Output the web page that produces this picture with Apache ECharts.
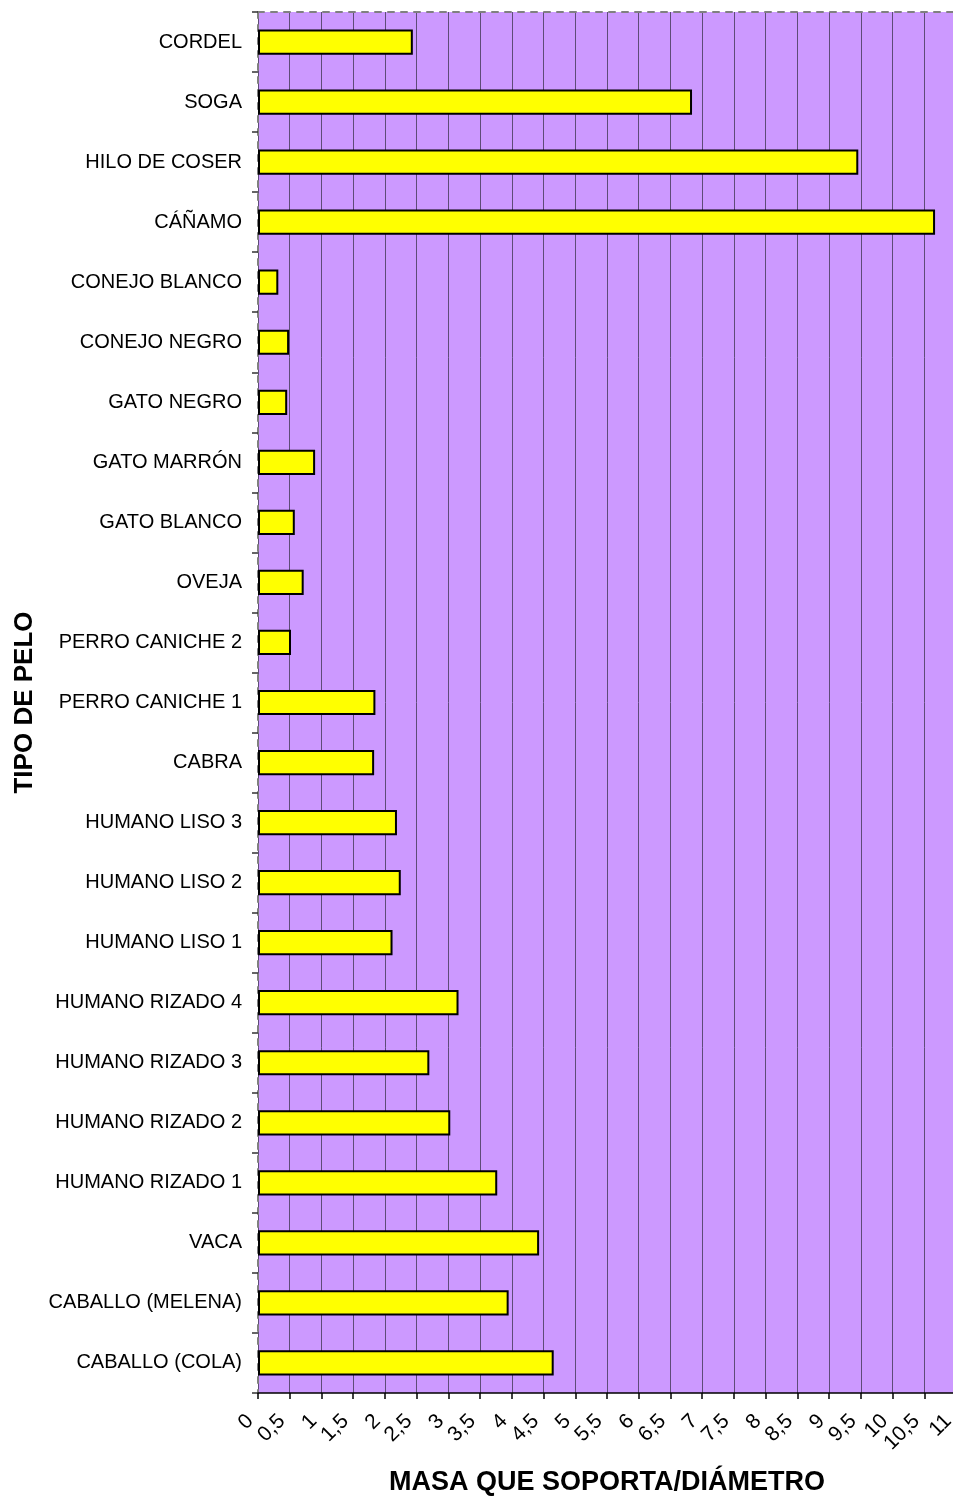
<!DOCTYPE html>
<html>
<head>
<meta charset="utf-8">
<script src="https://cdn.jsdelivr.net/npm/echarts@6/dist/echarts.min.js"></script>
<style>
html,body{margin:0;padding:0;background:#fff;}
#c{width:953px;height:1497px;}
</style>
</head>
<body>
<div id="c"></div>
<script>
const categories = ["CORDEL","SOGA","HILO DE COSER","CÁÑAMO","CONEJO BLANCO","CONEJO NEGRO","GATO NEGRO","GATO MARRÓN","GATO BLANCO","OVEJA","PERRO CANICHE 2","PERRO CANICHE 1","CABRA","HUMANO LISO 3","HUMANO LISO 2","HUMANO LISO 1","HUMANO RIZADO 4","HUMANO RIZADO 3","HUMANO RIZADO 2","HUMANO RIZADO 1","VACA","CABALLO (MELENA)","CABALLO (COLA)"];
const values = [2.44,6.84,9.46,10.67,0.32,0.49,0.46,0.90,0.58,0.72,0.52,1.85,1.83,2.19,2.25,2.12,3.16,2.70,3.03,3.77,4.43,3.95,4.66];
const xMin = 0, xMax = 11, xStep = 0.5;
const xTitle = "MASA QUE SOPORTA/DIÁMETRO";
const yTitle = "TIPO DE PELO";

const FONT = "'Liberation Sans', Arial, sans-serif";
const chart = echarts.init(document.getElementById('c'));
chart.setOption({
  animation: false,
  backgroundColor: '#ffffff',
  grid: {left: 258, top: 12, bottom: 104, right: -3, show: true, backgroundColor: '#CC99FF', borderWidth: 0,
         containLabel: false, outerBoundsMode: 'none'},
  xAxis: [{
    type: 'value', min: xMin, max: xMax, interval: xStep, position: 'bottom',
    axisLine: {show: true, lineStyle: {color: '#000', width: 1.5}},
    axisTick: {show: true, length: 6, lineStyle: {color: '#000', width: 1.5}},
    axisLabel: {rotate: 45, margin: 17, padding: [0, 11, 0, 0], color: '#000', fontFamily: FONT, fontSize: 21,
      hideOverlap: false, showMaxLabel: true,
      formatter: v => String(v).replace('.', ',')},
    splitLine: {show: true, lineStyle: {color: '#5e4c78', width: 1}},
    name: xTitle, nameLocation: 'middle', nameGap: 76,
    nameTextStyle: {fontFamily: FONT, fontSize: 27, fontWeight: 'bold', color: '#000'}
  },{
    type: 'value', min: xMin, max: xMax, interval: xStep, position: 'top',
    axisLine: {show: true, lineStyle: {color: '#808080', width: 2, type: [6, 7]}},
    axisTick: {show: false}, axisLabel: {show: false}, splitLine: {show: false}
  }],
  yAxis: {
    type: 'category', data: categories, inverse: true,
    axisLine: {show: true, lineStyle: {color: '#808080', width: 2, type: [6, 7]}},
    axisTick: {show: true, length: 6, lineStyle: {color: '#333', width: 1.5}},
    axisLabel: {margin: 16, color: '#000', fontFamily: FONT, fontSize: 20},
    name: yTitle, nameLocation: 'middle', nameGap: 220, nameRotate: 90,
    nameTextStyle: {fontFamily: FONT, fontSize: 26, fontWeight: 'bold', color: '#000'}
  },
  series: [{
    type: 'bar', data: values, xAxisIndex: 0, barWidth: '42%',
    itemStyle: {color: '#FFFF00', borderColor: '#000', borderWidth: 2},
    z: 3
  }]
});
</script>
</body>
</html>
